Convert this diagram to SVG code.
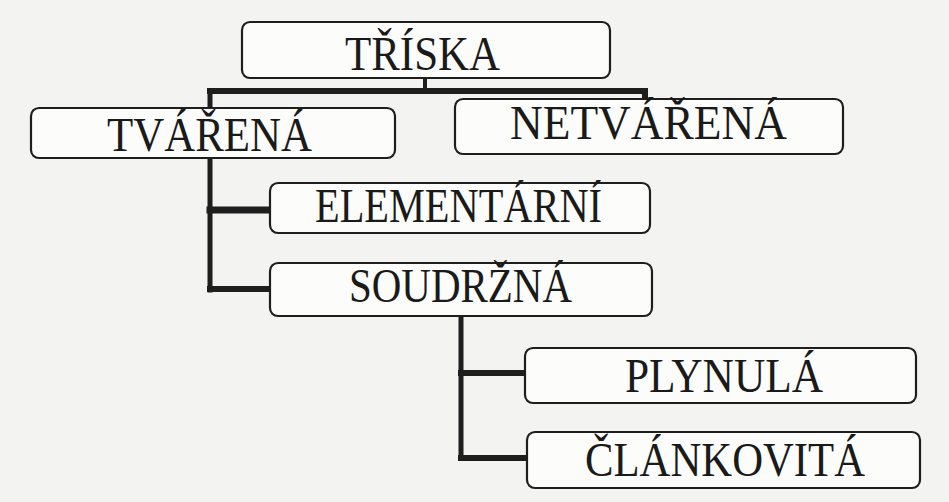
<svg xmlns="http://www.w3.org/2000/svg" width="949" height="502" viewBox="0 0 949 502">
  <style>
    .bg { fill: #f3f3f1; }
    .box { fill: #fcfcfb; stroke: #1e1e1e; stroke-width: 2.2; }
    .lbl { font-family: "Liberation Serif", "Times New Roman", serif; font-size: 48px; fill: #1a1a1a; }
    .conn { fill: none; stroke: #1e1e1e; stroke-linecap: square; }
  </style>
  <rect class="bg" x="0" y="0" width="949" height="502"/>

  <g id="connectors">
    <path class="conn" stroke-width="4" d="M425 78 V90"/>
    <path class="conn" stroke-width="6" d="M210 91 H645 V99"/>
    <path class="conn" stroke-width="5" d="M210 91 V290"/>
    <path class="conn" stroke-width="7" d="M210 210 H270"/>
    <path class="conn" stroke-width="6" d="M210 289 H270"/>
    <path class="conn" stroke-width="5" d="M461 316 V458"/>
    <path class="conn" stroke-width="6" d="M461 373 H525"/>
    <path class="conn" stroke-width="6" d="M461 458 H527"/>
  </g>

  <g id="triska">
    <rect class="box" x="242" y="22" width="368" height="56" rx="8"/>
    <text class="lbl" x="345" y="70" textLength="155" lengthAdjust="spacingAndGlyphs">TŘÍSKA</text>
  </g>
  <g id="tvarena">
    <rect class="box" x="31" y="108" width="364" height="50" rx="8"/>
    <text class="lbl" x="107" y="151" textLength="205" lengthAdjust="spacingAndGlyphs">TVÁŘENÁ</text>
  </g>
  <g id="netvarena">
    <rect class="box" x="455" y="99" width="388" height="55" rx="8"/>
    <text class="lbl" x="510" y="139" textLength="277" lengthAdjust="spacingAndGlyphs">NETVÁŘENÁ</text>
  </g>
  <g id="elementarni">
    <rect class="box" x="270" y="183" width="380" height="50" rx="8"/>
    <text class="lbl" x="315" y="222" textLength="287" lengthAdjust="spacingAndGlyphs">ELEMENTÁRNÍ</text>
  </g>
  <g id="soudrzna">
    <rect class="box" x="270" y="263" width="382" height="53" rx="8"/>
    <text class="lbl" x="349" y="302" textLength="223" lengthAdjust="spacingAndGlyphs">SOUDRŽNÁ</text>
  </g>
  <g id="plynula">
    <rect class="box" x="525" y="348" width="391" height="55" rx="8"/>
    <text class="lbl" x="625" y="392" textLength="198" lengthAdjust="spacingAndGlyphs">PLYNULÁ</text>
  </g>
  <g id="clankovita">
    <rect class="box" x="527" y="432" width="393" height="56" rx="8"/>
    <text class="lbl" x="585" y="476" textLength="280" lengthAdjust="spacingAndGlyphs">ČLÁNKOVITÁ</text>
  </g>
</svg>
